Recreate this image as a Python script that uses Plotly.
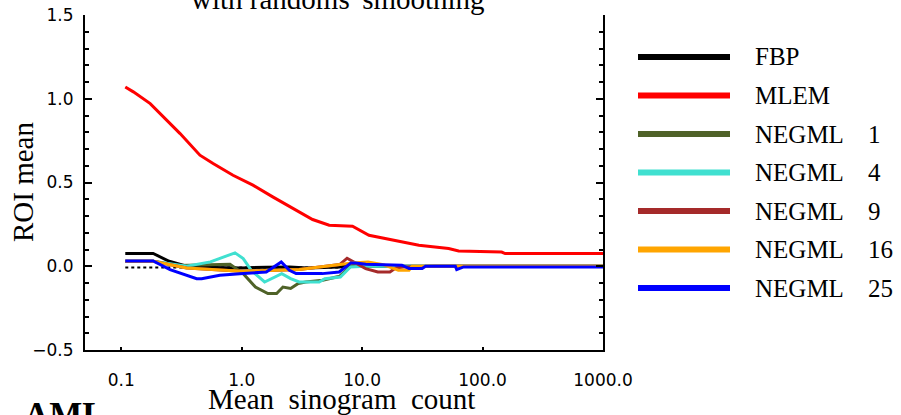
import plotly.graph_objects as go

# ---------------- data ----------------
names = ["FBP", "MLEM", "NEGML", "NEGML", "NEGML", "NEGML", "NEGML"]
suffix = ["", "", "1", "4", "9", "16", "25"]
colors = ["#000000", "#ff0000", "#4f6228", "#40e0d0", "#a52a2a", "#ffa500", "#0000ff"]

x_fbp = [0.108, 0.184, 0.25, 0.349, 0.45, 0.66, 1.0, 1.6, 2.5, 3.5, 4.7, 6.5, 8.0, 10.7, 30, 100, 1000]
y_fbp = [0.076, 0.076, 0.030, 0.000, -0.006, -0.008, -0.010, -0.006, -0.004, -0.010, -0.006, -0.004, 0.005, 0.0, 0.0, 0.0, 0.0]

x_ref = [0.108, 8.0]
y_ref = [-0.008, -0.008]

x_mlem = [0.108, 0.126, 0.174, 0.210, 0.308, 0.450, 0.579, 0.847, 1.24, 1.81, 2.66, 3.88, 5.33, 8.32, 11.4, 17.8, 29.6, 52.3, 63.3, 144, 154, 1000]
y_mlem = [1.070, 1.041, 0.971, 0.912, 0.792, 0.663, 0.613, 0.543, 0.484, 0.414, 0.344, 0.279, 0.245, 0.239, 0.185, 0.155, 0.125, 0.106, 0.091, 0.085, 0.076, 0.076]

x_n1 = [0.108, 0.184, 0.30, 0.45, 0.80, 1.03, 1.30, 1.65, 1.95, 2.20, 2.55, 2.95, 3.4, 4.7, 6.5, 8.0, 10.7, 30, 100, 1000]
y_n1 = [0.030, 0.030, 0.005, 0.008, 0.012, -0.044, -0.124, -0.163, -0.163, -0.124, -0.133, -0.103, -0.094, -0.084, -0.060, 0.0, 0.0, 0.0, 0.0, 0.0]

x_n4 = [0.108, 0.184, 0.349, 0.55, 0.88, 1.03, 1.20, 1.55, 2.15, 2.55, 3.0, 4.4, 4.9, 6.6, 8.0, 10.7, 30, 100, 1000]
y_n4 = [0.030, 0.030, 0.000, 0.026, 0.080, 0.046, -0.024, -0.094, -0.044, -0.074, -0.094, -0.094, -0.074, -0.064, -0.004, 0.0, 0.0, 0.0, 0.0]

x_n9 = [0.108, 0.184, 0.349, 1.0, 3.0, 6.5, 7.5, 8.3, 10.7, 13.5, 17.0, 19.0, 22.0, 40, 100, 1000]
y_n9 = [0.030, 0.030, -0.010, -0.030, -0.020, 0.010, 0.048, 0.030, -0.014, -0.034, -0.034, -0.010, -0.004, 0.0, 0.0, 0.0]

x_n16 = [0.108, 0.184, 0.349, 1.0, 3.0, 6.5, 8.3, 11.2, 15.0, 20.0, 24.5, 26.0, 40, 100, 1000]
y_n16 = [0.030, 0.030, -0.010, -0.030, -0.020, 0.010, 0.020, 0.026, 0.010, -0.024, -0.024, 0.000, 0.0, 0.0, 0.0]

x_n25 = [0.108, 0.184, 0.254, 0.349, 0.423, 0.465, 0.658, 1.03, 1.60, 2.13, 2.49, 2.83, 4.67, 6.45, 8.07, 8.87, 10.7, 21.4, 24.5, 31.5, 33.6, 59.4, 61, 69.6, 1000]
y_n25 = [0.032, 0.032, -0.020, -0.054, -0.074, -0.074, -0.054, -0.044, -0.034, 0.026, -0.024, -0.044, -0.044, -0.034, 0.020, 0.020, 0.012, 0.006, -0.014, -0.014, 0.000, 0.000, -0.020, -0.004, -0.004]

x_series = [x_fbp, x_mlem, x_n1, x_n4, x_n9, x_n16, x_n25]
y_series = [y_fbp, y_mlem, y_n1, y_n4, y_n9, y_n16, y_n25]

x_tickvals = [0.1, 1, 10, 100, 1000]
x_ticktext = ["0.1", "1.0", "10.0", "100.0", "1000.0"]
y_tickvals = [-0.5, 0.0, 0.5, 1.0, 1.5]

# ---------------- layout geometry ----------------
W, H = 901, 415
L, R, T, B = 85, 603, 15, 350
def px_x(p):
    return (p - L) / (R - L)
def px_y(p):
    return (B - p) / (B - T)

fig = go.Figure()

# dotted black reference line
fig.add_trace(go.Scatter(x=x_ref, y=y_ref, mode="lines", showlegend=False,
                         line=dict(color="black", width=2, dash="dot"), hoverinfo="skip"))

for i in range(len(names)):
    fig.add_trace(go.Scatter(x=x_series[i], y=y_series[i], mode="lines",
                             name=(names[i] + " " + suffix[i]).strip(),
                             line=dict(color=colors[i], width=3, shape="linear"),
                             showlegend=False))

axis_font = dict(family="DejaVu Sans", size=17, color="black")
serif = "Liberation Serif"

fig.update_layout(
    width=W, height=H,
    margin=dict(l=L, r=W - R, t=T, b=H - B, autoexpand=False),
    plot_bgcolor="white", paper_bgcolor="white",
    xaxis=dict(type="log", range=[-1.301, 3.0], tickvals=x_tickvals, ticktext=x_ticktext,
               ticks="inside", ticklen=3, tickwidth=2, tickcolor="black",
               showline=True, linecolor="black", linewidth=2, showgrid=False, zeroline=False,
               tickfont=axis_font, ticklabelstandoff=14),
    xaxis2=dict(type="log", range=[-1.301, 3.0], overlaying="x", side="top", anchor="y",
                tickvals=x_tickvals, showticklabels=False,
                ticks="inside", ticklen=7, tickwidth=2, tickcolor="black",
                minor=dict(ticks="inside", ticklen=4, tickwidth=2, tickcolor="black", dtick="D1"),
                showline=True, linecolor="black", linewidth=2, showgrid=False, zeroline=False),
    yaxis=dict(range=[-0.5, 1.5], tickvals=y_tickvals, tickformat=".1f",
               ticks="inside", ticklen=7, tickwidth=2, tickcolor="black",
               minor=dict(ticks="inside", ticklen=4, tickwidth=2, tickcolor="black", dtick=0.1),
               showline=True, linecolor="black", linewidth=2, mirror="ticks",
               showgrid=False, zeroline=False, tickfont=axis_font, ticklabelstandoff=6),
    showlegend=False,
)

annotations = []
shapes = []
# title (cut at the top)
annotations.append(dict(text="with randoms' smoothing", xref="paper", yref="paper",
                        x=px_x(338), y=px_y(17), xanchor="center", yanchor="bottom",
                        showarrow=False, font=dict(family=serif, size=29, color="black")))
# axis titles
annotations.append(dict(text="Mean  sinogram  count", xref="paper", yref="paper",
                        x=px_x(341), y=px_y(381), xanchor="center", yanchor="top",
                        showarrow=False, font=dict(family=serif, size=29, color="black")))
annotations.append(dict(text="ROI mean", xref="paper", yref="paper", textangle=-90,
                        x=px_x(5), y=px_y(182), xanchor="left", yanchor="middle",
                        showarrow=False, font=dict(family=serif, size=29, color="black")))
# panel label (cut at the bottom)
annotations.append(dict(text="<b>AML</b>", xref="paper", yref="paper",
                        x=px_x(22), y=px_y(394), xanchor="left", yanchor="top",
                        showarrow=False, font=dict(family=serif, size=35, color="black")))

# manual legend
for i in range(len(names)):
    yc = 57 + 38.5 * i
    shapes.append(dict(type="line", xref="paper", yref="paper",
                       x0=px_x(638), x1=px_x(730), y0=px_y(yc), y1=px_y(yc),
                       line=dict(color=colors[i], width=6)))
    annotations.append(dict(text=names[i], xref="paper", yref="paper",
                            x=px_x(753), y=px_y(yc), xanchor="left", yanchor="middle",
                            showarrow=False, font=dict(family=serif, size=25, color="black")))
    if suffix[i]:
        annotations.append(dict(text=suffix[i], xref="paper", yref="paper",
                                x=px_x(866), y=px_y(yc), xanchor="left", yanchor="middle",
                                showarrow=False, font=dict(family=serif, size=25, color="black")))

fig.update_layout(annotations=annotations, shapes=shapes)
fig.write_html("out.html", config={"displayModeBar": False},
               post_script="document.body.style.margin='0';document.body.style.padding='0';")
